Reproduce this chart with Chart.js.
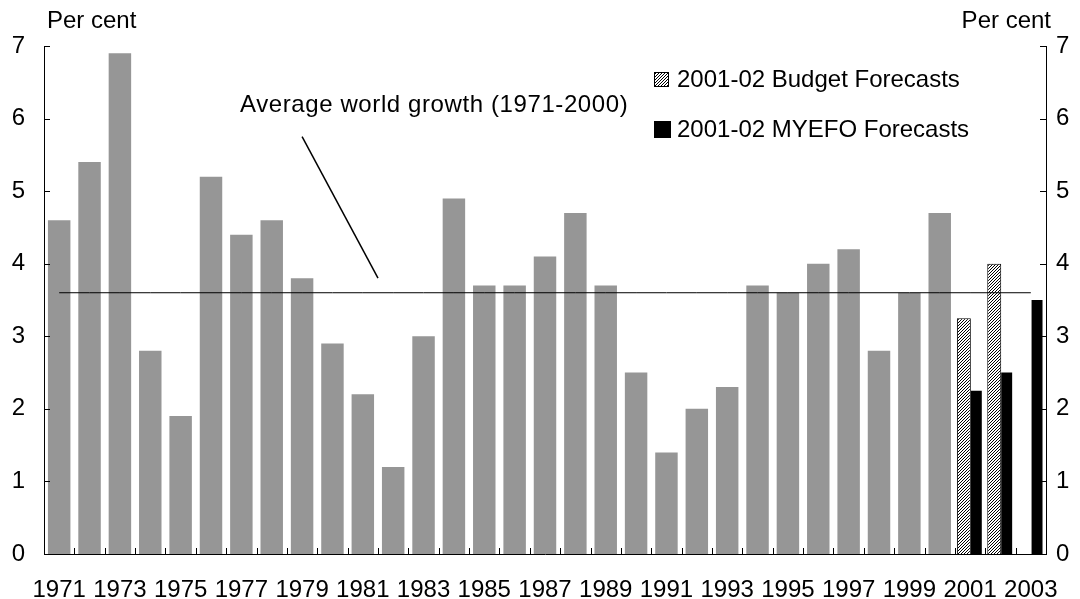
<!DOCTYPE html>
<html>
<head>
<meta charset="utf-8">
<script src="https://cdn.jsdelivr.net/npm/chart.js"></script>
<style>
   html, body { margin: 0; padding: 0; background: #fff; }
   #wrap { width: 1080px; height: 599px; }
</style>
</head>
<body>
<div id="wrap"><canvas id="growthChart" width="1080" height="599"></canvas></div>
<script>
// ============  data  ============
const years = ['1971', '1972', '1973', '1974', '1975', '1976', '1977', '1978', '1979', '1980',
   '1981', '1982', '1983', '1984', '1985', '1986', '1987', '1988', '1989', '1990',
   '1991', '1992', '1993', '1994', '1995', '1996', '1997', '1998', '1999', '2000',
   '2001', '2002', '2003'];

const actualGrowth = [4.6, 5.4, 6.9, 2.8, 1.9, 5.2, 4.4, 4.6, 3.8, 2.9,
   2.2, 1.2, 3.0, 4.9, 3.7, 3.7, 4.1, 4.7, 3.7, 2.5,
   1.4, 2.0, 2.3, 3.7, 3.6, 4.0, 4.2, 2.8, 3.6, 4.7,
   null, null, null];

const budgetForecast = [null, null, null, null, null, null, null, null, null, null,
   null, null, null, null, null, null, null, null, null, null,
   null, null, null, null, null, null, null, null, null, null,
   3.25, 4.0, null];

const myefoForecast = [null, null, null, null, null, null, null, null, null, null,
   null, null, null, null, null, null, null, null, null, null,
   null, null, null, null, null, null, null, null, null, null,
   2.25, 2.5, 3.5];

const averageGrowth = [3.6, 3.6, 3.6, 3.6, 3.6, 3.6, 3.6, 3.6, 3.6, 3.6,
   3.6, 3.6, 3.6, 3.6, 3.6, 3.6, 3.6, 3.6, 3.6, 3.6,
   3.6, 3.6, 3.6, 3.6, 3.6, 3.6, 3.6, 3.6, 3.6, 3.6,
   3.6, 3.6, 3.6];

const yMin = 0;
const yMax = 7;
const yStep = 1;

// ============  defaults  ============
Chart.defaults.font.family = "'Liberation Sans', Arial, sans-serif";
Chart.defaults.font.size = 24;
Chart.defaults.color = '#000';

const ctx = document.getElementById('growthChart').getContext('2d');

// diagonal hatch for the budget bars
function makeHatch() {
   const c = document.createElement('canvas');
   c.width = 3;
   c.height = 3;
   const g = c.getContext('2d');
   g.fillStyle = '#fff';
   g.fillRect(0, 0, 3, 3);
   g.strokeStyle = '#000';
   g.lineWidth = 1;
   g.beginPath();
   g.moveTo(0, 3); g.lineTo(3, 0);
   g.moveTo(-1, 1); g.lineTo(1, -1);
   g.moveTo(2, 4); g.lineTo(4, 2);
   g.stroke();
   return ctx.createPattern(c, 'repeat');
}
const hatch = makeHatch();

// ============  decorations: inward ticks, titles, note, legend  ============
const decor = {
   id: 'decor',
   afterDatasetsDraw(chart) {
      const { ctx, chartArea: a, scales: { x, y } } = chart;
      ctx.save();
      ctx.strokeStyle = '#000';
      ctx.lineWidth = 1;

      // tick marks pointing into the plot
      ctx.beginPath();
      y.ticks.forEach(t => {
         const py = Math.round(y.getPixelForValue(t.value)) + 0.5;
         ctx.moveTo(a.left, py); ctx.lineTo(a.left + 6, py);
         ctx.moveTo(a.right - 6, py); ctx.lineTo(a.right, py);
      });
      for (let i = 1; i < years.length; i++) {
         const px = Math.round(x.getPixelForValue(i - 0.5)) + 0.5;
         ctx.moveTo(px, a.bottom); ctx.lineTo(px, a.bottom - 6);
      }
      ctx.stroke();

      // pointer to the average line
      ctx.beginPath();
      ctx.lineWidth = 1.5;
      ctx.moveTo(x.getPixelForValue(8), y.getPixelForValue(5.75));
      ctx.lineTo(x.getPixelForValue(10.5), y.getPixelForValue(3.8));
      ctx.stroke();

      ctx.fillStyle = '#000';
      ctx.font = "24px 'Liberation Sans', Arial, sans-serif";
      ctx.textBaseline = 'alphabetic';
      ctx.textAlign = 'left';
      ctx.letterSpacing = '0.6px';
      ctx.fillText('Average world growth (1971-2000)', 240, 112);
      ctx.letterSpacing = '0px';

      // axis titles
      ctx.textBaseline = 'middle';
      ctx.fillText('Per cent', 47, 21);
      ctx.textAlign = 'right';
      ctx.fillText('Per cent', 1051, 21);

      // legend
      const ds = chart.data.datasets;
      const items = [ds[2], ds[3]];
      ctx.textAlign = 'left';
      items.forEach((d, i) => {
         const top = i === 0 ? 72 : 121;
         const size = i === 0 ? 15 : 17;
         ctx.fillStyle = d.backgroundColor;
         ctx.fillRect(654, top, size, size);
         if (d.borderWidth) {
            ctx.lineWidth = 1;
            ctx.strokeRect(654.5, top + 0.5, size - 1, size - 1);
         }
         ctx.fillStyle = '#000';
         ctx.fillText(d.label, 677, top + size / 2 + 1);
      });
      ctx.restore();
   }
};

// ============  chart  ============
const growthChart = new Chart(ctx, {
   type: 'bar',
   data: {
      labels: years,
      datasets: [{
         type: 'line',
         label: 'Average world growth (1971-2000)',
         data: averageGrowth,
         borderColor: '#000',
         borderWidth: 1,
         pointRadius: 0,
         tension: 0,
         order: 0,
      }, {
         label: 'World growth',
         data: actualGrowth,
         backgroundColor: '#969696',
         borderWidth: 0,
         grouped: false,
         categoryPercentage: 1,
         barPercentage: 0.74,
         order: 1,
      }, {
         label: '2001-02 Budget Forecasts',
         data: budgetForecast,
         backgroundColor: hatch,
         borderColor: '#000',
         borderWidth: 1,
         categoryPercentage: 0.82,
         barPercentage: 1.12,
         order: 1,
      }, {
         label: '2001-02 MYEFO Forecasts',
         data: myefoForecast,
         backgroundColor: '#000',
         borderWidth: 0,
         categoryPercentage: 0.82,
         barPercentage: 0.88,
         order: 1,
      }],
   },
   options: {
      responsive: false,
      animation: false,
      events: [],
      layout: {
         padding: { top: 46, left: 0, right: 0, bottom: 0 },
      },
      scales: {
         x: {
            offset: true,
            grid: { display: false, drawTicks: false },
            border: { display: true, color: '#000', width: 1 },
            ticks: {
               autoSkip: false,
               maxRotation: 0,
               minRotation: 0,
               padding: 22,
               callback: function(val, index) {
                  return index % 2 === 0 ? this.getLabelForValue(val) : '';
               },
            },
            afterFit(scale) { scale.height = 45; },
         },
         y: {
            position: 'left',
            min: yMin,
            max: yMax,
            grid: { display: false, drawTicks: false },
            border: { display: true, color: '#000', width: 1 },
            ticks: { stepSize: yStep, padding: 19 },
            afterFit(scale) { scale.width = 44; },
         },
         y2: {
            position: 'right',
            min: yMin,
            max: yMax,
            grid: { display: false, drawTicks: false },
            border: { display: true, color: '#000', width: 1 },
            ticks: { stepSize: yStep, padding: 10 },
            afterFit(scale) { scale.width = 32; },
         },
      },
      plugins: {
         legend: { display: false },
         tooltip: { enabled: false },
      },
   },
   plugins: [decor],
});
</script>
</body>
</html>
